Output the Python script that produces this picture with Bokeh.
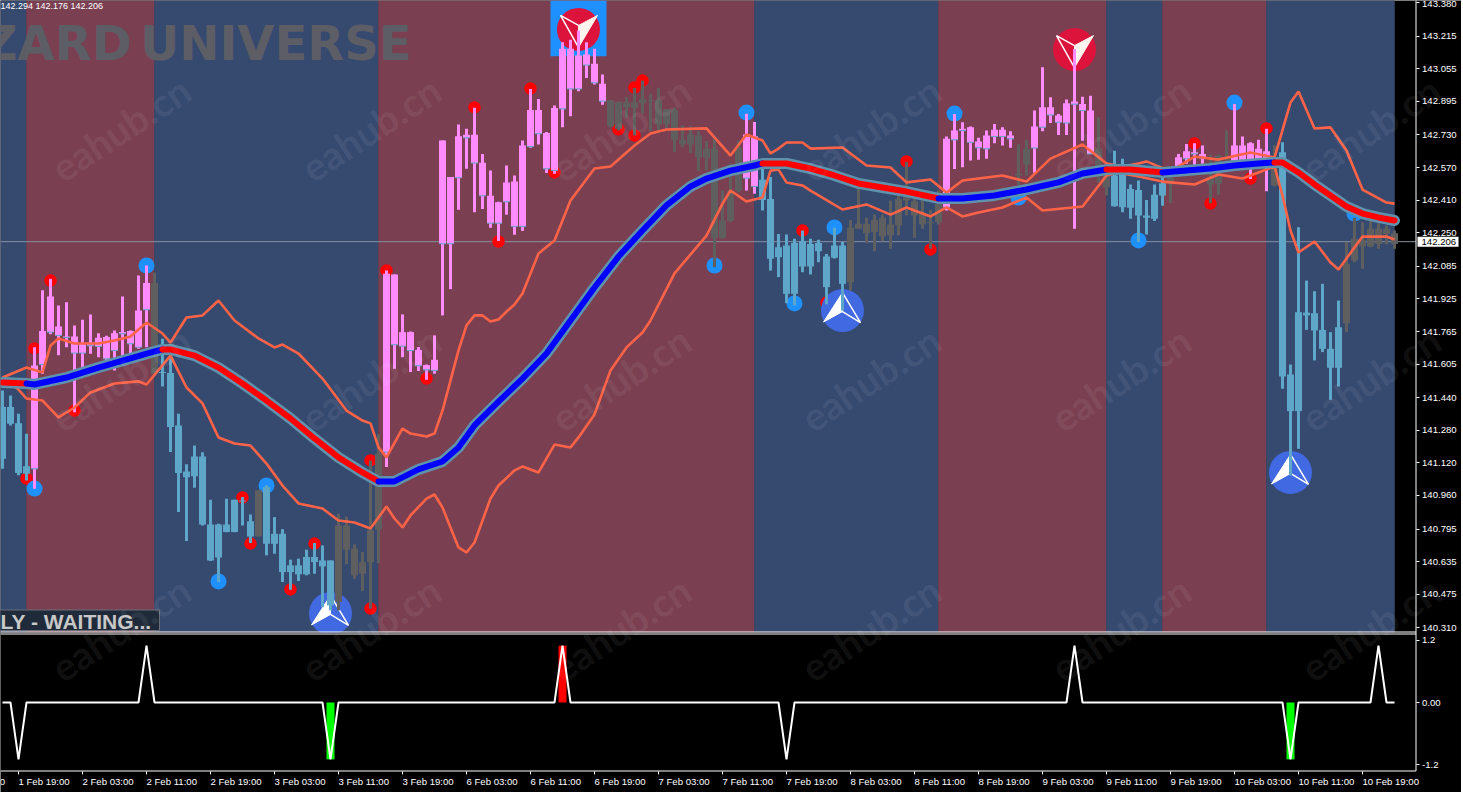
from bokeh.plotting import figure, ColumnDataSource
from bokeh.models import Range1d, LinearAxis, FixedTicker, Label
from bokeh.core.properties import value
from bokeh.embed import file_html
from bokeh.resources import INLINE
import numpy as np

# ---------- data ----------
body_top = [141.394,141.394,141.315,141.103,141.598,141.767,141.937,141.790,141.741,141.741,
141.708,141.711,141.734,141.738,141.757,141.762,141.767,141.868,142.003,142.003,
141.566,141.561,141.304,141.078,141.152,141.152,140.818,140.818,140.818,140.939,
140.936,140.833,140.985,141.001,140.772,140.772,140.617,140.617,140.658,140.658,
140.641,140.641,140.813,140.813,140.699,140.633,140.789,141.165,142.048,142.045,
141.762,141.762,141.675,141.600,141.626,142.703,142.523,142.723,142.731,142.731,
142.593,142.431,142.400,142.497,142.502,142.678,142.853,142.853,142.739,142.862,
143.153,143.153,143.120,143.125,143.079,142.981,142.902,142.893,142.891,142.891,
142.907,142.902,142.902,142.857,142.853,142.706,142.732,142.727,142.662,142.662,
142.310,142.457,142.670,142.732,142.723,142.510,142.416,142.179,142.187,142.199,
142.208,142.195,142.199,142.133,142.187,142.187,142.274,142.294,142.294,142.313,
142.323,142.290,142.416,142.424,142.405,142.343,142.302,142.392,142.711,142.752,
142.760,142.768,142.698,142.727,142.755,142.755,142.727,142.539,142.662,142.771,
142.866,142.866,142.825,142.886,142.894,142.882,142.850,142.662,142.547,142.531,
142.539,142.465,142.460,142.334,142.437,142.493,142.519,142.621,142.650,142.645,
142.637,142.523,142.629,142.617,142.678,142.678,142.689,142.662,142.650,142.624,
142.645,141.554,141.860,141.858,141.855,141.773,141.680,141.786,142.097,142.220,
142.215,142.269,142.269,142.269,142.248]
body_bottom = [141.140,141.312,141.070,141.067,141.091,141.603,141.762,141.746,141.736,141.659,
141.659,141.695,141.692,141.631,141.672,141.754,141.705,141.688,141.872,141.558,
141.561,141.296,141.070,141.050,141.054,140.818,140.641,140.655,140.781,140.781,
140.931,140.759,140.759,140.723,140.723,140.584,140.584,140.573,140.573,140.633,
140.612,140.421,140.437,140.694,140.568,140.576,140.633,140.792,141.173,141.700,
141.693,141.672,141.597,141.577,141.574,142.196,142.196,142.520,142.716,142.592,
142.431,142.297,142.297,142.402,142.281,142.281,142.673,142.736,142.564,142.556,
142.858,142.956,142.956,143.073,142.986,142.896,142.772,142.760,142.866,142.863,
142.886,142.898,142.781,142.785,142.706,142.683,142.683,142.621,142.618,142.225,
142.225,142.307,142.457,142.518,142.477,142.411,142.122,142.130,141.950,141.950,
142.084,142.084,142.159,141.983,142.127,141.999,142.007,142.269,142.248,142.253,
142.231,142.236,142.285,142.408,142.334,142.290,142.297,142.302,142.375,142.706,
142.752,142.694,142.667,142.662,142.722,142.722,142.711,142.531,142.585,142.666,
142.768,142.828,142.792,142.789,142.881,142.850,142.637,142.547,142.473,142.380,
142.375,142.372,142.334,142.323,142.318,142.433,142.487,142.568,142.613,142.637,
142.617,142.487,142.490,142.608,142.604,142.604,142.604,142.604,142.608,142.482,
141.544,141.374,141.374,141.844,141.770,141.680,141.587,141.587,141.806,142.114,
142.182,142.182,142.195,142.244,142.195]
bar_high = [141.476,141.451,141.361,141.263,141.688,141.967,142.024,141.893,141.909,141.795,
141.823,141.849,141.757,141.744,141.770,141.937,141.770,142.040,142.089,142.055,
141.729,141.631,141.361,141.113,141.206,141.172,140.939,140.821,140.944,140.939,
140.952,140.867,140.985,141.010,140.854,140.795,140.645,140.650,140.694,140.727,
140.715,140.641,140.870,140.857,140.720,140.682,141.132,141.260,142.065,142.045,
141.849,141.765,141.689,141.603,141.746,142.703,142.523,142.781,142.760,142.863,
142.637,142.556,142.402,142.580,142.531,142.703,142.956,142.907,142.744,142.875,
143.185,143.197,143.243,143.185,143.153,143.027,142.902,142.893,142.916,142.961,
142.997,142.932,142.961,142.857,142.863,142.776,142.772,142.749,142.700,142.727,
142.457,142.588,142.703,142.834,142.793,142.563,142.523,142.244,142.241,142.220,
142.261,142.220,142.215,142.146,142.274,142.204,142.313,142.465,142.323,142.339,
142.339,142.408,142.477,142.599,142.416,142.408,142.362,142.457,142.722,142.833,
142.792,142.771,142.716,142.752,142.784,142.768,142.748,142.686,142.707,142.850,
143.062,142.915,142.833,142.904,143.152,142.918,142.923,142.817,142.596,142.653,
142.613,142.487,142.506,142.411,142.487,142.523,142.563,142.637,142.686,142.689,
142.678,142.634,142.634,142.752,142.882,142.722,142.694,142.706,142.760,142.678,
142.694,141.603,142.277,142.015,141.963,141.999,141.762,141.917,142.204,142.323,
142.302,142.310,142.297,142.285,142.261]
bar_low = [141.091,141.304,141.059,141.034,140.993,141.558,141.751,141.648,141.688,141.369,
141.582,141.656,141.639,141.610,141.574,141.607,141.656,141.680,141.688,141.558,
141.495,141.173,140.879,140.736,140.998,140.813,140.638,140.535,140.779,140.779,
140.813,140.727,140.759,140.666,140.674,140.535,140.497,140.540,140.568,140.576,
140.412,140.396,140.396,140.622,140.551,140.491,140.404,140.628,141.100,141.582,
141.639,141.566,141.571,141.528,141.558,141.844,141.973,142.363,142.564,142.351,
142.367,142.274,142.209,142.338,142.240,142.258,142.667,142.683,142.543,142.539,
142.768,142.822,142.945,143.010,142.978,142.878,142.768,142.752,142.814,142.727,
142.834,142.749,142.752,142.760,142.646,142.670,142.641,142.552,142.556,142.081,
142.220,142.302,142.449,142.457,142.441,142.359,142.064,142.032,141.904,141.893,
142.056,142.045,142.105,141.898,142.123,141.868,141.966,142.269,142.199,142.159,
142.208,142.171,142.236,142.334,142.225,142.269,142.171,142.290,142.359,142.563,
142.572,142.604,142.608,142.613,142.689,142.678,142.667,142.482,142.531,142.544,
142.748,142.789,142.730,142.730,142.269,142.702,142.637,142.498,142.433,142.379,
142.351,142.318,142.204,142.241,142.307,142.383,142.395,142.559,142.588,142.572,
142.588,142.395,142.437,142.604,142.588,142.588,142.514,142.580,142.454,142.477,
141.484,141.058,141.189,141.773,141.623,141.664,141.430,141.495,141.762,142.105,
142.073,142.179,142.171,142.192,142.171]
bar_kind = ("b"*4 + "p"*15 + "g" + "b"*12 + "g" + "b"*9 + "g"*6 + "p"*28 + "g"*17 + "p"*2 +
            "b"*11 + "g"*12 + "p"*9 + "g"*2 + "p"*8 + "g"*2 + "b"*7 + "g" + "p"*4 + "g"*3 +
            "p"*5 + "g" + "b"*8 + "g"*7)

zone_edges = [-0.25, 3, 19, 47, 94, 117, 138, 145, 158, 174]
zone_kinds = ["bear", "bull", "bear", "bull", "bear", "bull", "bear", "bull", "bear"]

ma_bars = [0,3,4,8,12,16,19,20,21,24,27,30,33,36,39,42,45,47,49,52,55,57,59,62,65,68,71,74,77,80,83,86,88,91,94,95,
           98,101,104,107,110,113,117,120,124,128,132,135,138,141,145,148,151,154,157,159,160,162,164,166,168,170,172,174]
ma_price = [141.515,141.510,141.505,141.539,141.588,141.633,141.667,141.677,141.677,141.647,141.588,141.510,141.426,
            141.338,141.240,141.147,141.073,141.029,141.029,141.088,141.127,141.196,141.304,141.421,141.534,141.657,
            141.819,141.981,142.133,142.261,142.384,142.477,142.516,142.555,142.580,142.590,142.590,142.565,142.531,
            142.492,142.472,142.452,142.418,142.418,142.433,142.462,142.497,142.541,142.560,142.560,142.546,142.555,
            142.565,142.580,142.590,142.595,142.595,142.546,142.487,142.433,142.379,142.344,142.325,142.310]
ma_flips = [3, 20, 47, 95, 117, 138, 145, 159]

upper_bars = [0,3,5,6,7,9,12,14,16,18,20,21,23,25,27,29,32,34,35,37,40,43,45,46,47,48,50,51,53,54,55,57,58,59,60,61,62,63,64,65,
              67,69,71,74,76,79,81,83,88,91,93,95,96,97,98,100,101,105,108,111,113,116,118,120,125,128,131,135,138,140,142,143,
              146,149,152,156,159,161,162,164,166,168,170,173,174]
upper_price = [141.539,141.588,141.564,141.696,141.731,141.706,141.706,141.721,141.741,141.809,141.755,141.711,141.834,
               141.844,141.917,141.819,141.731,141.687,141.701,141.657,141.534,141.377,141.328,141.314,141.196,141.147,
               141.289,141.264,141.250,141.264,141.377,141.672,141.795,141.844,141.844,141.814,141.824,141.863,141.898,
               141.952,142.148,142.212,142.408,142.565,142.575,142.678,142.737,142.757,142.762,142.629,142.732,142.703,
               142.639,142.663,142.693,142.693,142.663,142.668,142.580,142.570,142.497,142.511,142.447,142.506,142.531,
               142.501,142.614,142.683,142.590,142.575,142.590,142.600,142.551,142.624,142.609,142.644,142.619,142.889,
               142.943,142.762,142.767,142.654,142.462,142.398,142.393]
lower_bars = [0,2,3,5,7,9,11,14,17,18,21,23,25,27,29,31,33,35,37,40,42,44,46,48,49,50,51,53,54,55,57,58,59,61,62,64,65,67,69,71,72,
              74,76,78,80,81,84,88,90,91,93,95,96,97,98,100,101,105,108,111,113,116,118,120,122,125,128,130,135,138,139,140,142,145,
              149,152,155,159,160,161,162,164,166,167,168,170,173,174]
lower_price = [141.539,141.480,141.436,141.426,141.343,141.392,141.466,141.510,141.520,141.505,141.647,141.490,141.412,
               141.245,141.215,141.205,141.117,141.009,140.921,140.896,140.837,140.827,140.798,140.906,140.847,140.803,
               140.862,140.945,140.965,140.901,140.705,140.680,140.729,140.945,141.009,141.083,141.102,141.073,141.210,
               141.196,141.245,141.358,141.574,141.687,141.760,141.819,142.050,142.236,142.393,142.457,142.403,142.423,
               142.555,142.560,142.497,142.482,142.457,142.364,142.389,142.339,142.374,142.330,142.374,142.330,142.349,
               142.374,142.423,142.359,142.379,142.531,142.541,142.541,142.526,142.501,142.487,142.536,142.516,142.575,
               142.433,142.261,142.153,142.207,142.104,142.069,142.124,142.231,142.231,142.217]

red_dot_bars = [3,4,6,9,30,31,39,36,46,46,48,53,59,66,62,69,77,79,80,79,100,113,116,103,149,151,156,158]
red_dot_price = [141.043,141.682,142.015,141.377,140.950,140.724,140.724,140.499,141.132,140.405,142.065,141.534,142.865,
                 142.958,142.207,142.546,142.757,142.963,142.997,142.727,142.261,142.600,142.168,141.907,142.688,142.393,
                 142.516,142.762]
blue_dot_bars = [4,18,27,33,89,93,99,104,119,127,142,154,169]
blue_dot_price = [140.994,142.089,140.538,141.009,142.089,142.840,141.903,142.276,142.835,142.423,142.212,142.889,142.344]

buy_arrow_bars = [41, 105, 161]
buy_arrow_price = [140.381, 141.868, 141.073]
sell_arrow_bars = [72, 134]
sell_arrow_price = [143.248, 143.149]

signal_bars = [2, 18, 41, 70, 98, 134, 161, 172]
signal_values = [-1.1, 1.1, -1.1, 1.1, -1.1, 1.1, -1.1, 1.1]
hist_bars = [41, 70, 161]
hist_values = [-1.1, 1.1, -1.1]
hist_colors = ["#00ff00", "#ff0000", "#00ff00"]

price_ticks = [143.380,143.215,143.055,142.895,142.730,142.570,142.410,142.250,142.085,141.925,141.765,141.605,
               141.440,141.280,141.120,140.960,140.795,140.635,140.475,140.310]
signal_ticks = [1.2, 0.0, -1.2]
signal_tick_labels = ["1.2", "0.00", "-1.2"]
time_ticks = [-6,2,10,18,26,34,42,50,58,66,74,82,90,98,106,114,122,130,138,146,154,162,170]
time_labels = ["1 Feb 11:00","1 Feb 19:00","2 Feb 03:00","2 Feb 11:00","2 Feb 19:00","3 Feb 03:00","3 Feb 11:00","3 Feb 19:00",
               "6 Feb 03:00","6 Feb 11:00","6 Feb 19:00","7 Feb 03:00","7 Feb 11:00","7 Feb 19:00","8 Feb 03:00",
               "8 Feb 11:00","8 Feb 19:00","9 Feb 03:00","9 Feb 11:00","9 Feb 19:00","10 Feb 03:00","10 Feb 11:00","10 Feb 19:00"]
last_price = 142.206
header_text = "142.294 142.176 142.206"

# ---------- scales ----------
PAGE_W, PAGE_H = 1461, 792
AXIS_X, AXIS_Y = 1415.5, 770.5
BAR_W = 8.0
PRICE_TOP = 143.39
PX_PER_PRICE = 203.7
SIG_ZERO_PX = 702.0
PX_PER_SIG = 51.67

def xb(px):          # page pixel -> bar index
    return (px - 2) / BAR_W
def yp(py):          # page pixel -> price
    return PRICE_TOP - py / PX_PER_PRICE
def sig_to_price(v): # indicator value -> primary axis position
    return yp(SIG_ZERO_PX - v * PX_PER_SIG)

p = figure(width=PAGE_W, height=PAGE_H,
           x_range=Range1d(xb(0), xb(PAGE_W)), y_range=Range1d(yp(PAGE_H), yp(0)),
           output_backend="svg", toolbar_location=None, x_axis_location=None, y_axis_location=None,
           background_fill_color="black", border_fill_color="black", outline_line_color=None,
           min_border=0, min_border_left=0, min_border_right=0, min_border_top=0, min_border_bottom=0)
p.grid.visible = False
p.extra_y_ranges = {"sig": Range1d((SIG_ZERO_PX - PAGE_H) / PX_PER_SIG, SIG_ZERO_PX / PX_PER_SIG)}

FONT = "Liberation Sans"
FSIZE = "9.6px"
yax = LinearAxis(ticker=FixedTicker(ticks=price_ticks + [sig_to_price(v) for v in signal_ticks]),
                 fixed_location=xb(AXIS_X))
ov = {t: f"{t:.3f}" for t in price_ticks}
ov.update({sig_to_price(v): s for v, s in zip(signal_ticks, signal_tick_labels)})
yax.major_label_overrides = ov
xax = LinearAxis(ticker=FixedTicker(ticks=time_ticks), fixed_location=yp(AXIS_Y),
                 major_label_text_font_size="0px", major_label_text_color=None)
for ax in (yax, xax):
    ax.axis_line_color = None
    ax.major_tick_line_color = "white"
    ax.major_tick_out = 3
    ax.major_tick_in = 0
    ax.minor_tick_line_color = None
yax.major_label_text_color = "white"
yax.major_label_text_font = FONT
yax.major_label_text_font_size = FSIZE
yax.major_label_standoff = 3
p.add_layout(yax, "right")
p.add_layout(xax, "below")

# ---------- zones ----------
zone_color = {"bull": "#7a4052", "bear": "#36496f"}
p.quad(left=zone_edges[:-1], right=zone_edges[1:], bottom=yp(632), top=yp(0),
       fill_color=[zone_color[k] for k in zone_kinds], line_color=[zone_color[k] for k in zone_kinds], line_width=0.5)

# ---------- logo + last price line ----------
p.text(x=[xb(131), xb(411)], y=[yp(42), yp(42)], text=["WIZARD", "UNIVERSE"], text_align="right", text_baseline="middle",
       text_font=value("DejaVu Sans"), text_font_style="bold", text_font_size="48px", text_color="#5d5d66")
p.line([xb(0), xb(AXIS_X)], [last_price, last_price], line_color="#87909f", line_width=1)

# ---------- small dots ----------
p.scatter(red_dot_bars, red_dot_price, size=12.5, fill_color="#ff0000", line_color=None)
p.scatter(blue_dot_bars, blue_dot_price, size=16, fill_color="#1e90ff", line_color=None)

# ---------- big arrows ----------
p.quad(left=[sell_arrow_bars[0] - 3.5], right=[sell_arrow_bars[0] + 3.5], top=[yp(0)],
       bottom=[sell_arrow_price[0] - 26.7 / PX_PER_PRICE], fill_color="#1e90ff", line_color=None)
p.scatter(buy_arrow_bars, buy_arrow_price, size=43, fill_color="#4169e1", line_color=None)
p.scatter(sell_arrow_bars, sell_arrow_price, size=43, fill_color="#dc143c", line_color=None)
def off(b, pr, dx, dy):
    return b + dx / BAR_W, pr - dy / PX_PER_PRICE
for b, pr in zip(buy_arrow_bars, buy_arrow_price):
    pts = [off(b, pr, *d) for d in [(0, -18), (-19, 11.5), (0, 1)]]
    p.patch([q[0] for q in pts], [q[1] for q in pts], fill_color="white", line_color="white", line_width=1)
    pts = [off(b, pr, *d) for d in [(0, -18), (18, 12), (0, 1)]]
    p.line([q[0] for q in pts], [q[1] for q in pts], line_color="white", line_width=1.5)
for b, pr in zip(sell_arrow_bars, sell_arrow_price):
    pts = [off(b, pr, *d) for d in [(0, -4), (19, -14), (0, 18)]]
    p.patch([q[0] for q in pts], [q[1] for q in pts], fill_color="#fff5ee", line_color="#fff5ee", line_width=1)
    pts = [off(b, pr, *d) for d in [(0, -4), (-18, -14), (0, 18)]]
    p.line([q[0] for q in pts], [q[1] for q in pts], line_color="white", line_width=1.5)

# ---------- candles ----------
kind_color = {"p": "#ff8cff", "b": "#5ea7c8", "g": "#5f5f5f"}
bars = list(range(len(body_top)))
src = ColumnDataSource(dict(x=bars, top=body_top, bottom=body_bottom, high=bar_high, low=bar_low,
                            color=[kind_color[k] for k in bar_kind]))
p.segment("x", "high", "x", "low", source=src, line_color="color", line_width=3)
p.vbar(x="x", top="top", bottom="bottom", width=0.875, source=src, fill_color="color", line_color=None)
pink = [i for i, k in enumerate(bar_kind) if k == "p"]
p.segment([i - 0.43 for i in pink], [body_bottom[i] for i in pink], [i + 0.43 for i in pink],
          [body_bottom[i] for i in pink], line_color="#5ea7c8", line_width=1)

# ---------- bands and moving average ----------
p.line(upper_bars, upper_price, line_color="#ff6347", line_width=2.6)
p.line(lower_bars, lower_price, line_color="#ff6347", line_width=2.6)
p.line(ma_bars, ma_price, line_color="#5f93ad", line_width=11, line_join="round", line_cap="round")
edges = [0] + ma_flips + [ma_bars[-1]]
for i in range(len(edges) - 1):
    i0, i1 = ma_bars.index(edges[i]), ma_bars.index(edges[i + 1])
    p.line(ma_bars[i0:i1 + 1], ma_price[i0:i1 + 1], line_color="#ff0000" if i % 2 == 0 else "#0000ff",
           line_width=6, line_cap="round", line_join="round")

# ---------- status box ----------
p.quad(left=[xb(-4)], right=[xb(159)], top=[yp(609.5)], bottom=[yp(630)], fill_color="#1f2b3a",
       line_color="#6c6f78", line_width=1)
p.text(x=[xb(151)], y=[yp(620.5)], text=["LY - WAITING..."], text_align="right", text_baseline="middle",
       text_font=value("Liberation Sans"), text_font_style="bold", text_font_size="21px", text_color="#c8c8c8")

# ---------- indicator panel ----------
p.quad(left=[xb(0)], right=[xb(AXIS_X)], top=[yp(632)], bottom=[yp(AXIS_Y)], fill_color="black", line_color=None)
for py in (631.5, 633.5):
    p.line([xb(0), xb(AXIS_X)], [yp(py), yp(py)], line_color="white", line_width=1)
p.line([xb(AXIS_X), xb(AXIS_X)], [yp(0), yp(AXIS_Y)], line_color="white", line_width=1)
p.line([xb(0), xb(AXIS_X)], [yp(AXIS_Y), yp(AXIS_Y)], line_color="white", line_width=1)
p.vbar(x=hist_bars, top=hist_values, bottom=0, width=1.0, fill_color=hist_colors, line_color=None, y_range_name="sig")
signal = np.zeros(len(body_top))
signal[signal_bars] = signal_values
p.line(bars, signal, line_color="white", line_width=2, y_range_name="sig")

# ---------- texts ----------
p.text(x=time_ticks, y=[yp(781)] * len(time_ticks), text=time_labels, text_align="left", text_baseline="middle",
       text_font=value(FONT), text_font_size=FSIZE, text_color="white")
p.quad(left=[xb(1417)], right=[xb(1458)], top=[last_price + 5 / PX_PER_PRICE], bottom=[last_price - 5 / PX_PER_PRICE],
       fill_color="white", line_color=None)
p.text(x=[xb(1421)], y=[last_price], text=[f"{last_price:.3f}"], text_align="left", text_baseline="middle",
       text_font=value(FONT), text_font_size=FSIZE, text_color="black")
p.add_layout(Label(x=xb(0), y=yp(5), text=header_text, text_align="left", text_baseline="middle",
                   text_font=FONT, text_font_size="9px", text_color="white"))
for cy in (128, 378, 628):
    for cx in (120, 370, 620, 870, 1120, 1370):
        p.add_layout(Label(x=xb(cx), y=yp(cy), text="eahub.cn", text_align="center", text_baseline="middle",
                           angle=0.58, text_font="Lato", text_font_style="bold", text_font_size="39px",
                           text_color="white", text_alpha=0.08))

open("out.html", "w").write(file_html(p, INLINE))
